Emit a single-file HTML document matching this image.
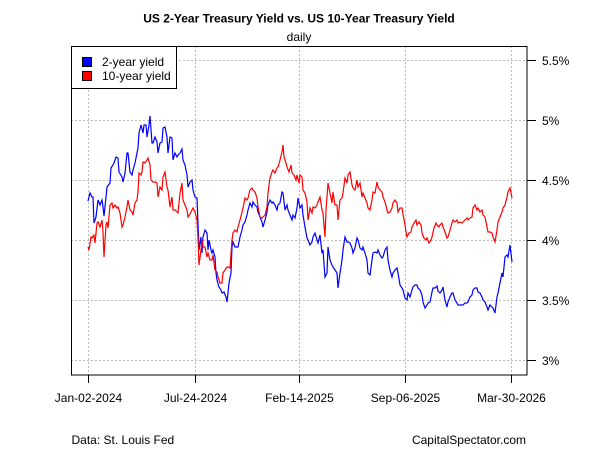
<!DOCTYPE html>
<html><head><meta charset="utf-8"><style>
html,body{margin:0;padding:0;background:#fff;}
svg{display:block;font-family:"Liberation Sans",Arial,sans-serif;}
</style></head><body>
<svg width="600" height="450" viewBox="0 0 600 450" xmlns="http://www.w3.org/2000/svg">
<rect width="600" height="450" fill="#fff"/>
<text x="299" y="22.5" font-size="12" font-weight="bold" text-anchor="middle" fill="#000">US 2-Year Treasury Yield vs. US 10-Year Treasury Yield</text>
<text x="299" y="41" font-size="12" text-anchor="middle" fill="#000">daily</text>
<g stroke="#bbb" stroke-width="1" stroke-dasharray="2,2" fill="none">
<line x1="71" y1="60.5" x2="527" y2="60.5"/>
<line x1="71" y1="120.5" x2="527" y2="120.5"/>
<line x1="71" y1="180.5" x2="527" y2="180.5"/>
<line x1="71" y1="240.5" x2="527" y2="240.5"/>
<line x1="71" y1="300.5" x2="527" y2="300.5"/>
<line x1="71" y1="360.5" x2="527" y2="360.5"/>
<line x1="88.5" y1="46" x2="88.5" y2="375"/>
<line x1="195.5" y1="46" x2="195.5" y2="375"/>
<line x1="299.5" y1="46" x2="299.5" y2="375"/>
<line x1="405.5" y1="46" x2="405.5" y2="375"/>
<line x1="511.5" y1="46" x2="511.5" y2="375"/>
</g>
<polyline fill="none" stroke="#0000ff" stroke-width="1.2" stroke-linejoin="miter" points="88,201 90,193 92,197 93,197 94,223 96,217 98,200 100,205 102,200 103,207 104,216 106,197 107,187 110,183 111,168 113,165 114,163 116,157 118,158 119,172 122,177 123,182 125,173 127,153 128,153 130,172 132,175 133,170 135,163 137,153 138,148 139,133 141,125 143,133 144,125 146,125 147,137 149,125 150,116 152,143 153,143 155,137 157,142 158,153 160,143 162,142 163,128 165,127 167,137 168,153 170,137 172,138 173,160 175,153 177,157 178,155 180,153 182,149 183,160 185,165 187,175 188,187 190,182 192,180 193,190 195,197 197,198 198,223 199,250 201,237 202,253 203,237 205,230 207,233 208,250 209,240 211,250 212,253 213,250 215,257 216,273 217,280 219,287 221,290 222,293 224,292 226,297 227,302 228,293 229,283 231,273 232,247 233,242 235,247 237,247 238,247 240,237 242,230 243,225 245,222 247,215 248,210 250,203 252,207 253,202 255,205 257,207 258,212 260,217 262,222 263,227 265,220 267,212 268,205 270,200 272,203 273,202 275,205 277,210 278,205 280,203 282,192 283,193 285,210 287,205 288,210 290,215 292,220 293,215 295,218 297,208 298,198 300,208 302,205 303,215 305,227 307,238 308,240 310,245 312,242 313,237 315,233 317,240 318,243 320,235 322,253 323,250 325,277 327,273 328,247 330,260 332,265 333,267 335,270 337,273 338,288 340,273 342,260 343,250 345,237 347,242 348,242 350,243 352,248 353,253 355,248 357,238 358,240 360,248 362,250 363,247 365,253 367,260 368,273 370,275 372,260 373,253 375,252 377,253 378,250 380,255 382,258 383,257 385,250 387,247 388,260 390,270 392,277 393,273 395,270 397,268 398,273 400,285 402,288 403,290 405,298 407,300 408,293 410,297 412,290 413,287 415,285 417,285 418,288 420,290 422,295 423,302 425,308 427,305 428,303 430,302 432,292 433,288 435,288 437,286 438,291 440,293 442,290 443,287 445,300 447,307 448,302 450,297 452,293 453,293 455,300 457,303 458,305 460,305 462,305 463,305 465,303 467,303 468,302 470,297 472,295 473,290 475,288 477,288 478,292 480,293 482,297 483,300 485,302 487,307 488,310 490,305 492,307 493,308 495,313 497,297 498,293 500,283 502,273 503,277 505,257 507,255 508,257 510,245 512,262"/>
<polyline fill="none" stroke="#ff0000" stroke-width="1.2" stroke-linejoin="miter" points="88,247 89,250 91,237 92,238 94,235 95,243 97,223 98,222 100,227 102,220 103,232 104,257 106,225 107,222 108,228 110,205 112,203 113,208 115,205 117,208 118,207 120,213 122,227 123,225 125,217 127,207 128,200 130,210 132,212 133,215 135,203 137,200 138,192 139,173 141,175 142,172 143,162 145,163 147,160 148,158 150,165 151,180 153,182 155,182 157,183 158,197 160,187 162,190 163,177 165,172 167,187 168,190 170,207 172,197 173,210 175,210 177,212 178,213 180,193 182,183 183,200 185,205 187,210 188,217 190,214 192,210 193,208 195,212 197,220 198,238 199,265 201,250 202,240 203,247 205,247 207,257 208,253 210,260 212,260 213,255 215,270 217,272 218,277 220,283 222,283 223,273 225,270 227,267 228,267 230,268 232,240 233,233 235,230 237,232 238,227 240,220 242,212 243,208 245,198 247,200 248,198 250,190 252,188 253,190 255,192 257,198 258,207 260,217 262,218 263,217 265,215 267,207 268,193 270,178 272,172 273,170 275,173 277,168 278,167 280,160 282,152 283,145 284,157 286,163 287,167 289,172 291,165 292,173 294,175 296,180 297,175 299,183 300,175 302,177 303,190 305,193 307,202 308,220 310,208 312,213 313,207 315,208 317,205 318,202 320,197 322,210 323,213 325,237 326,210 327,197 328,183 330,193 332,203 333,192 335,205 337,205 338,220 340,200 342,198 343,193 345,178 347,183 348,175 350,172 352,185 353,188 355,190 357,180 358,187 360,183 362,197 363,193 365,198 367,203 368,208 370,210 372,200 373,192 375,193 377,182 378,187 380,190 382,192 383,197 385,202 387,210 388,213 390,212 392,208 393,203 395,200 397,203 398,212 400,208 402,208 403,214 405,225 406,232 407,237 409,233 411,232 412,227 414,223 416,220 417,225 419,222 421,225 422,233 424,238 426,240 427,238 429,243 431,240 432,237 434,228 436,223 437,225 439,227 440,225 442,223 443,227 445,232 447,238 448,237 450,230 452,223 453,220 455,222 457,220 458,223 460,222 462,223 463,222 465,220 467,218 468,220 470,218 472,217 473,208 475,205 477,210 478,208 480,212 482,210 483,215 485,217 487,227 488,232 490,232 492,233 493,237 495,242 497,230 498,222 500,217 502,212 503,208 505,205 507,197 508,192 510,188 512,198"/>
<rect x="71.5" y="46.5" width="455.5" height="328.5" fill="none" stroke="#000" stroke-width="1"/>
<g stroke="#000" stroke-width="1">
<line x1="527" y1="60.5" x2="536" y2="60.5"/>
<line x1="527" y1="120.5" x2="536" y2="120.5"/>
<line x1="527" y1="180.5" x2="536" y2="180.5"/>
<line x1="527" y1="240.5" x2="536" y2="240.5"/>
<line x1="527" y1="300.5" x2="536" y2="300.5"/>
<line x1="527" y1="360.5" x2="536" y2="360.5"/>
<line x1="88.5" y1="375" x2="88.5" y2="383"/>
<line x1="195.5" y1="375" x2="195.5" y2="383"/>
<line x1="299.5" y1="375" x2="299.5" y2="383"/>
<line x1="405.5" y1="375" x2="405.5" y2="383"/>
<line x1="511.5" y1="375" x2="511.5" y2="383"/>
</g>
<g font-size="12" fill="#000">
<text x="542" y="65">5.5%</text>
<text x="542" y="125">5%</text>
<text x="542" y="185">4.5%</text>
<text x="542" y="245">4%</text>
<text x="542" y="305">3.5%</text>
<text x="542" y="365">3%</text>
</g>
<g font-size="12" fill="#000" text-anchor="middle">
<text x="88.5" y="402">Jan-02-2024</text>
<text x="195.5" y="402">Jul-24-2024</text>
<text x="299.5" y="402">Feb-14-2025</text>
<text x="405.5" y="402">Sep-06-2025</text>
<text x="511.5" y="402">Mar-30-2026</text>
</g>
<rect x="71.5" y="46.5" width="105" height="42" fill="#fff" stroke="#000" stroke-width="1"/>
<rect x="82.5" y="57.5" width="9" height="9" fill="#0000ff" stroke="#000" stroke-width="1"/>
<rect x="82.5" y="71.5" width="9" height="9" fill="#ff0000" stroke="#000" stroke-width="1"/>
<text x="102" y="66" font-size="12" fill="#000">2-year yield</text>
<text x="102" y="80" font-size="12" fill="#000">10-year yield</text>
<text x="71.5" y="444" font-size="12" fill="#000">Data: St. Louis Fed</text>
<text x="526" y="444" font-size="12" fill="#000" text-anchor="end">CapitalSpectator.com</text>
</svg>
</body></html>
